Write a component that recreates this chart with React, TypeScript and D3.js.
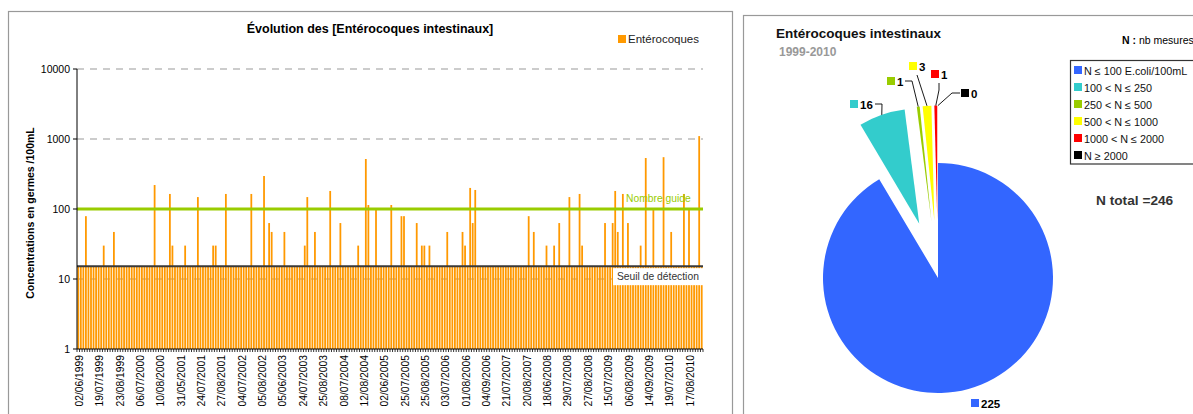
import React, { useEffect, useRef } from 'react';
import * as d3 from 'd3';

// one label every 8 samples
const tickDates = [
  '02/06/1999', '19/07/1999', '23/08/1999', '06/07/2000', '10/08/2000', '31/05/2001',
  '24/07/2001', '27/08/2001', '04/07/2002', '05/08/2002', '05/06/2003', '24/07/2003',
  '25/08/2003', '08/07/2004', '12/08/2004', '02/06/2005', '25/07/2005', '25/08/2005',
  '03/07/2006', '01/08/2006', '04/09/2006', '21/07/2007', '20/08/2007', '18/06/2008',
  '29/07/2008', '27/08/2008', '15/07/2009', '06/08/2009', '14/09/2009', '19/07/2010',
  '17/08/2010',
];

// germes /100mL, 246 samples (15 = below detection threshold)
const enteroValues = [
  15, 15, 15, 79, 15, 15, 15, 15, 15, 15, 30, 15, 15, 15, 47, 15, 15, 15, 15, 15,
  15, 15, 15, 15, 15, 15, 15, 15, 15, 15, 220, 15, 15, 15, 15, 15, 164, 30, 15, 15,
  15, 15, 30, 15, 15, 15, 15, 148, 15, 15, 15, 15, 15, 30, 30, 15, 15, 15, 164, 15,
  15, 15, 15, 15, 15, 15, 15, 15, 164, 15, 15, 15, 15, 296, 15, 63, 47, 15, 15, 15,
  15, 47, 15, 15, 15, 15, 15, 15, 15, 30, 148, 15, 15, 47, 15, 15, 15, 15, 15, 181,
  15, 15, 15, 63, 15, 15, 15, 15, 15, 15, 30, 15, 15, 518, 114, 15, 15, 100, 15, 15,
  15, 15, 15, 114, 15, 15, 15, 79, 79, 15, 15, 15, 15, 63, 15, 30, 30, 15, 30, 15,
  15, 15, 15, 15, 15, 47, 15, 15, 15, 15, 15, 47, 30, 15, 200, 63, 187, 15, 15, 15,
  15, 15, 15, 15, 15, 15, 15, 15, 15, 15, 15, 15, 15, 15, 15, 15, 15, 79, 15, 47,
  15, 15, 15, 15, 30, 15, 15, 30, 15, 63, 15, 15, 15, 148, 15, 15, 15, 164, 30, 15,
  15, 15, 15, 15, 15, 15, 15, 63, 15, 15, 63, 181, 47, 15, 164, 15, 63, 15, 15, 15,
  15, 30, 15, 535, 15, 15, 100, 15, 15, 15, 550, 15, 15, 47, 15, 15, 15, 15, 164, 15,
  100, 15, 15, 15, 1100, 15,
];

const yTicks = [1, 10, 100, 1000, 10000];
const guideValue = 100;
const detectionValue = 15;

const pieClasses = [
  'N ≤ 100 E.coli/100mL',
  '100 < N ≤ 250',
  '250 < N ≤ 500',
  '500 < N ≤ 1000',
  '1000 < N ≤ 2000',
  'N ≥ 2000',
];
const pieCounts = [225, 16, 1, 3, 1, 0];
const pieColors = ['#3366ff', '#33cccc', '#99cc00', '#ffff00', '#ff0000', '#000000'];

// label square position relative to pie centre, and leader shape relative to square
const labelSpots = [[33, 121], [-88, -178], [-51, -201], [-29, -216], [-7, -208], [23, -189]];
const leaderShape = [null, [25, 4, 32, 4], [18, 4, 25, 4], [8, 13, 8, 13], [8, 13, 8, 20], [-1, 4, -9, 4]];

const FONT = 'Arial, "Liberation Sans", sans-serif';

export default function App() {
  const svgRef = useRef<SVGSVGElement>(null);

  useEffect(() => {
    if (!svgRef.current) return;
    const svg = d3.select(svgRef.current);
    svg.selectAll('*').remove();
    svg.style('font-family', FONT);

    // ---------- left panel: bar chart ----------
    svg.append('rect')
      .attr('x', 8.5).attr('y', 11.5).attr('width', 724).attr('height', 420)
      .attr('fill', 'none').attr('stroke', '#999').attr('stroke-width', 1.2);

    const plot = { left: 77, right: 703, top: 69, bottom: 349 };

    const x = d3.scaleBand<number>()
      .domain(d3.range(enteroValues.length))
      .range([plot.left, plot.right])
      .paddingInner(0.3)
      .paddingOuter(0.15);
    const gap = x.step() - x.bandwidth();

    const y = d3.scaleLog().domain([1, 10000]).range([plot.bottom, plot.top]);

    svg.append('text')
      .attr('x', 370).attr('y', 33)
      .attr('text-anchor', 'middle')
      .style('font-size', '12.5px').style('font-weight', 'bold')
      .text('Évolution des [Entérocoques intestinaux]');

    // legend
    svg.append('rect').attr('x', 618).attr('y', 35).attr('width', 8).attr('height', 8).attr('fill', '#ff9900');
    svg.append('text').attr('x', 628).attr('y', 43)
      .style('font-size', '11.5px').attr('fill', '#222').text('Entérocoques');

    // gridlines
    svg.append('g')
      .selectAll('line')
      .data(yTicks.slice(1))
      .enter()
      .append('line')
      .attr('x1', plot.left).attr('x2', plot.right)
      .attr('y1', (d) => y(d)).attr('y2', (d) => y(d))
      .attr('stroke', '#999').attr('stroke-dasharray', '7,6');

    // bars
    svg.append('g')
      .selectAll('rect')
      .data(enteroValues)
      .enter()
      .append('rect')
      .attr('x', (_d, i) => x(i)!)
      .attr('width', x.bandwidth())
      .attr('y', (d) => y(d))
      .attr('height', (d) => plot.bottom - y(d))
      .attr('fill', '#ff9900');

    // guide value
    svg.append('line')
      .attr('x1', plot.left).attr('x2', plot.right)
      .attr('y1', y(guideValue)).attr('y2', y(guideValue))
      .attr('stroke', '#99cc00').attr('stroke-width', 3);
    svg.append('text')
      .attr('x', 626).attr('y', y(guideValue) - 7)
      .style('font-size', '10.3px').attr('fill', '#99cc00')
      .text('Nombre guide');

    // detection threshold
    svg.append('line')
      .attr('x1', plot.left).attr('x2', plot.right)
      .attr('y1', y(detectionValue) - 0.5).attr('y2', y(detectionValue) - 0.5)
      .attr('stroke', '#3a3a3a').attr('stroke-width', 2);
    svg.append('rect')
      .attr('x', 613).attr('y', y(detectionValue) + 1.5)
      .attr('width', 90).attr('height', 17)
      .attr('fill', '#fff');
    svg.append('text')
      .attr('x', 617).attr('y', y(detectionValue) + 13)
      .style('font-size', '10.3px').attr('fill', '#333')
      .text('Seuil de détection');

    // y axis
    const yAxis = svg.append('g');
    yAxis.append('line')
      .attr('x1', plot.left).attr('x2', plot.left)
      .attr('y1', plot.top).attr('y2', plot.bottom)
      .attr('stroke', '#000');
    yTicks.forEach((t) => {
      yAxis.append('line')
        .attr('x1', plot.left - 4).attr('x2', plot.left)
        .attr('y1', y(t)).attr('y2', y(t))
        .attr('stroke', '#000');
      yAxis.append('text')
        .attr('x', plot.left - 7).attr('y', y(t))
        .attr('dy', '0.35em').attr('text-anchor', 'end')
        .style('font-size', '10.5px')
        .text(String(t));
    });
    svg.append('text')
      .attr('transform', `translate(30,${(plot.top + plot.bottom) / 2 + 4}) rotate(-90)`)
      .attr('dy', '0.35em')
      .attr('text-anchor', 'middle')
      .style('font-size', '10.5px').style('font-weight', 'bold')
      .text('Concentrations en germes /100mL');

    // x axis
    const xAxis = svg.append('g');
    xAxis.append('line')
      .attr('x1', plot.left).attr('x2', plot.right)
      .attr('y1', plot.bottom).attr('y2', plot.bottom)
      .attr('stroke', '#000');
    xAxis.selectAll('line.tick')
      .data(d3.range(enteroValues.length + 1))
      .enter()
      .append('line')
      .attr('class', 'tick')
      .attr('x1', (i) => (i < enteroValues.length ? x(i)! - gap / 2 : plot.right))
      .attr('x2', (i) => (i < enteroValues.length ? x(i)! - gap / 2 : plot.right))
      .attr('y1', plot.bottom).attr('y2', plot.bottom + 3)
      .attr('stroke', '#000').attr('stroke-width', 0.8);
    xAxis.selectAll('text')
      .data(tickDates)
      .enter()
      .append('text')
      .attr('transform', (_d, k) => `translate(${x(k * 8)! + x.bandwidth() / 2 + 1},355) rotate(-90)`)
      .attr('dy', '0.35em')
      .attr('text-anchor', 'end')
      .style('font-size', '10.3px')
      .text((d) => d);

    // ---------- right panel: pie ----------
    svg.append('rect')
      .attr('x', 743.5).attr('y', 15.5).attr('width', 500).attr('height', 420)
      .attr('fill', 'none').attr('stroke', '#999').attr('stroke-width', 1.2);

    svg.append('text').attr('x', 776).attr('y', 38)
      .style('font-size', '13.5px').style('font-weight', 'bold').attr('fill', '#111')
      .text('Entérocoques intestinaux');
    svg.append('text').attr('x', 779).attr('y', 56)
      .style('font-size', '12px').style('font-weight', 'bold').attr('fill', '#999')
      .text('1999-2010');

    const nTitle = svg.append('text').attr('x', 1122).attr('y', 44).style('font-size', '10.5px');
    nTitle.append('tspan').style('font-weight', 'bold').text('N :');
    nTitle.append('tspan').text(' nb mesures');

    // legend box
    svg.append('rect')
      .attr('x', 1070.5).attr('y', 60.5).attr('width', 140).attr('height', 103.5)
      .attr('fill', '#fff').attr('stroke', '#333').attr('stroke-width', 1.2);
    pieClasses.forEach((c, i) => {
      svg.append('rect')
        .attr('x', 1074).attr('y', 66 + i * 17).attr('width', 8).attr('height', 8)
        .attr('fill', pieColors[i]);
      svg.append('text')
        .attr('x', 1084).attr('y', 74.5 + i * 17)
        .style('font-size', '10.8px').attr('fill', '#111')
        .text(c);
    });

    const nTotal = d3.sum(pieCounts);
    svg.append('text').attr('x', 1096).attr('y', 205)
      .style('font-size', '13.7px').style('font-weight', 'bold').attr('fill', '#333')
      .text(`N total =${nTotal}`);

    const cx = 938, cy = 278, r = 115, explode = r * 0.5;
    const pie = d3.pie<number>().sort(null).startAngle(0).endAngle(2 * Math.PI);
    const arcs = pie(pieCounts);
    const arc = d3.arc<d3.PieArcDatum<number>>().innerRadius(0).outerRadius(r);

    const slices = svg.append('g').attr('transform', `translate(${cx},${cy})`);
    arcs.forEach((a, i) => {
      const mid = (a.startAngle + a.endAngle) / 2;
      const off = i === 0 ? 0 : explode;
      const ox = Math.sin(mid) * off, oy = -Math.cos(mid) * off;
      if (a.value > 0) {
        slices.append('path')
          .attr('d', arc(a)!)
          .attr('transform', `translate(${ox},${oy})`)
          .attr('fill', pieColors[i]);
      }

      // label
      const [sx, sy] = labelSpots[i];
      const lx = cx + sx, ly = cy + sy;
      const shape = leaderShape[i];
      if (shape) {
        const outerX = cx + ox + Math.sin(mid) * r;
        const outerY = cy + oy - Math.cos(mid) * r;
        svg.append('polyline')
          .attr('points', `${lx + shape[0]},${ly + shape[1]} ${lx + shape[2]},${ly + shape[3]} ${outerX},${outerY}`)
          .attr('fill', 'none').attr('stroke', '#000').attr('stroke-width', 0.9);
      }
      svg.append('rect').attr('x', lx).attr('y', ly).attr('width', 8).attr('height', 8)
        .attr('fill', pieColors[i]);
      svg.append('text').attr('x', lx + 10).attr('y', ly + 8.5)
        .style('font-size', '11.5px').style('font-weight', 'bold')
        .text(String(pieCounts[i]));
    });
  }, []);

  return (
    <div style={{ position: 'absolute', left: 0, top: 0, width: 1193, height: 414, background: '#fff' }}>
      <svg ref={svgRef} width={1193} height={414} style={{ display: 'block' }} />
    </div>
  );
}
